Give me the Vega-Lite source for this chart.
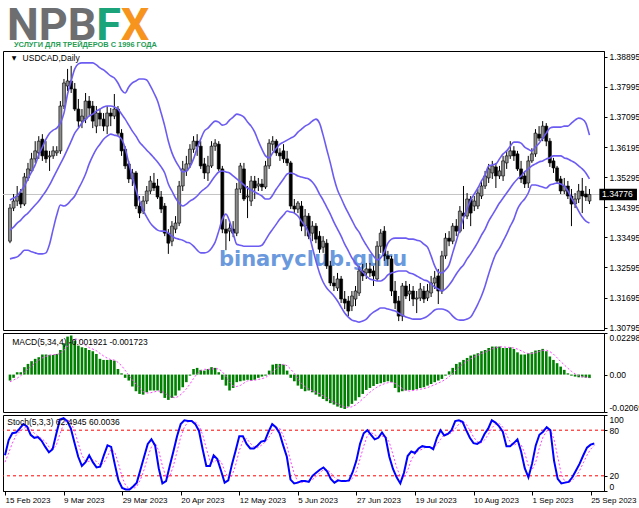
{
"$schema":"https://vega.github.io/schema/vega-lite/v6.json",
"background":"#ffffff",
"padding":{"left":0,"right":0,"top":3,"bottom":0},
"bounds":"flush",
"datasets":{"p":[
{"i":0,"o":1.3338,"h":1.3449,"l":1.3332,"c":1.3437,"u":1.3461,"m":1.3371,"b":1.3285,"mh":-0.0033,"ms":-0.0040,"k":47,"d":38},
{"i":1,"o":1.3437,"h":1.3479,"l":1.3428,"c":1.3458,"u":1.3467,"m":1.3380,"b":1.3288,"mh":-0.0018,"ms":-0.0030,"k":67,"d":50},
{"i":2,"o":1.3458,"h":1.3503,"l":1.3443,"c":1.3473,"u":1.3473,"m":1.3392,"b":1.3291,"mh":0.0013,"ms":-0.0020,"k":76,"d":63},
{"i":3,"o":1.3482,"h":1.3494,"l":1.3437,"c":1.3449,"u":1.3488,"m":1.3401,"b":1.3300,"mh":0.0013,"ms":-0.0006,"k":77,"d":73},
{"i":4,"o":1.3449,"h":1.3542,"l":1.3443,"c":1.3530,"u":1.3503,"m":1.3413,"b":1.3311,"mh":0.0041,"ms":0.0012,"k":82,"d":78},
{"i":5,"o":1.3527,"h":1.3572,"l":1.3518,"c":1.3554,"u":1.3524,"m":1.3422,"b":1.3311,"mh":0.0059,"ms":0.0032,"k":88,"d":82},
{"i":6,"o":1.3548,"h":1.3602,"l":1.3542,"c":1.3584,"u":1.3545,"m":1.3434,"b":1.3306,"mh":0.0074,"ms":0.0047,"k":85,"d":85},
{"i":7,"o":1.3584,"h":1.3637,"l":1.3572,"c":1.3608,"u":1.3566,"m":1.3446,"b":1.3303,"mh":0.0087,"ms":0.0065,"k":74,"d":82},
{"i":8,"o":1.3602,"h":1.3652,"l":1.3584,"c":1.3637,"u":1.3596,"m":1.3458,"b":1.3300,"mh":0.0096,"ms":0.0079,"k":70,"d":76},
{"i":9,"o":1.3643,"h":1.3658,"l":1.3578,"c":1.3593,"u":1.3619,"m":1.3473,"b":1.3300,"mh":0.0111,"ms":0.0092,"k":71,"d":72},
{"i":10,"o":1.3608,"h":1.3637,"l":1.3572,"c":1.3584,"u":1.3643,"m":1.3488,"b":1.3303,"mh":0.0111,"ms":0.0101,"k":66,"d":69},
{"i":11,"o":1.3590,"h":1.3608,"l":1.3548,"c":1.3593,"u":1.3661,"m":1.3506,"b":1.3329,"mh":0.0109,"ms":0.0107,"k":58,"d":65},
{"i":12,"o":1.3593,"h":1.3622,"l":1.3584,"c":1.3608,"u":1.3670,"m":1.3527,"b":1.3374,"mh":0.0109,"ms":0.0110,"k":51,"d":58},
{"i":13,"o":1.3602,"h":1.3622,"l":1.3593,"c":1.3608,"u":1.3676,"m":1.3548,"b":1.3416,"mh":0.0114,"ms":0.0111,"k":55,"d":55},
{"i":14,"o":1.3608,"h":1.3757,"l":1.3599,"c":1.3742,"u":1.3691,"m":1.3569,"b":1.3446,"mh":0.0136,"ms":0.0117,"k":75,"d":60},
{"i":15,"o":1.3742,"h":1.3823,"l":1.3733,"c":1.3811,"u":1.3721,"m":1.3590,"b":1.3443,"mh":0.0173,"ms":0.0133,"k":94,"d":75},
{"i":16,"o":1.3802,"h":1.3853,"l":1.3787,"c":1.3817,"u":1.3778,"m":1.3613,"b":1.3449,"mh":0.0210,"ms":0.0158,"k":96,"d":88},
{"i":17,"o":1.3817,"h":1.3862,"l":1.3781,"c":1.3793,"u":1.3817,"m":1.3637,"b":1.3461,"mh":0.0216,"ms":0.0184,"k":92,"d":94},
{"i":18,"o":1.3793,"h":1.3811,"l":1.3727,"c":1.3733,"u":1.3853,"m":1.3661,"b":1.3473,"mh":0.0188,"ms":0.0197,"k":82,"d":90},
{"i":19,"o":1.3733,"h":1.3763,"l":1.3679,"c":1.3697,"u":1.3868,"m":1.3676,"b":1.3494,"mh":0.0160,"ms":0.0194,"k":63,"d":79},
{"i":20,"o":1.3697,"h":1.3733,"l":1.3676,"c":1.3712,"u":1.3871,"m":1.3691,"b":1.3515,"mh":0.0151,"ms":0.0179,"k":45,"d":63},
{"i":21,"o":1.3703,"h":1.3781,"l":1.3691,"c":1.3757,"u":1.3871,"m":1.3703,"b":1.3539,"mh":0.0147,"ms":0.0162,"k":33,"d":47},
{"i":22,"o":1.3757,"h":1.3772,"l":1.3712,"c":1.3736,"u":1.3871,"m":1.3712,"b":1.3569,"mh":0.0136,"ms":0.0149,"k":38,"d":39},
{"i":23,"o":1.3742,"h":1.3757,"l":1.3676,"c":1.3697,"u":1.3871,"m":1.3718,"b":1.3593,"mh":0.0129,"ms":0.0141,"k":47,"d":39},
{"i":24,"o":1.3682,"h":1.3742,"l":1.3661,"c":1.3721,"u":1.3865,"m":1.3727,"b":1.3613,"mh":0.0114,"ms":0.0132,"k":38,"d":41},
{"i":25,"o":1.3721,"h":1.3733,"l":1.3682,"c":1.3703,"u":1.3856,"m":1.3733,"b":1.3628,"mh":0.0087,"ms":0.0117,"k":31,"d":39},
{"i":26,"o":1.3703,"h":1.3721,"l":1.3667,"c":1.3682,"u":1.3850,"m":1.3739,"b":1.3643,"mh":0.0081,"ms":0.0103,"k":32,"d":34},
{"i":27,"o":1.3682,"h":1.3742,"l":1.3658,"c":1.3721,"u":1.3841,"m":1.3742,"b":1.3652,"mh":0.0081,"ms":0.0091,"k":47,"d":37},
{"i":28,"o":1.3721,"h":1.3736,"l":1.3682,"c":1.3712,"u":1.3832,"m":1.3742,"b":1.3658,"mh":0.0081,"ms":0.0083,"k":60,"d":46},
{"i":29,"o":1.3712,"h":1.3778,"l":1.3703,"c":1.3733,"u":1.3826,"m":1.3739,"b":1.3655,"mh":0.0077,"ms":0.0080,"k":58,"d":55},
{"i":30,"o":1.3733,"h":1.3742,"l":1.3652,"c":1.3661,"u":1.3811,"m":1.3733,"b":1.3652,"mh":0.0031,"ms":0.0068,"k":35,"d":51},
{"i":31,"o":1.3661,"h":1.3673,"l":1.3593,"c":1.3608,"u":1.3790,"m":1.3718,"b":1.3643,"mh":0.0007,"ms":0.0049,"k":14,"d":36},
{"i":32,"o":1.3613,"h":1.3622,"l":1.3554,"c":1.3563,"u":1.3781,"m":1.3703,"b":1.3616,"mh":-0.0018,"ms":0.0024,"k":4,"d":18},
{"i":33,"o":1.3569,"h":1.3578,"l":1.3512,"c":1.3524,"u":1.3799,"m":1.3685,"b":1.3572,"mh":-0.0033,"ms":-0.0003,"k":2,"d":7},
{"i":34,"o":1.3524,"h":1.3554,"l":1.3503,"c":1.3542,"u":1.3811,"m":1.3667,"b":1.3530,"mh":-0.0066,"ms":-0.0028,"k":2,"d":3},
{"i":35,"o":1.3542,"h":1.3548,"l":1.3434,"c":1.3443,"u":1.3817,"m":1.3652,"b":1.3491,"mh":-0.0092,"ms":-0.0052,"k":6,"d":3},
{"i":36,"o":1.3443,"h":1.3473,"l":1.3407,"c":1.3422,"u":1.3823,"m":1.3634,"b":1.3458,"mh":-0.0107,"ms":-0.0075,"k":11,"d":6},
{"i":37,"o":1.3428,"h":1.3473,"l":1.3419,"c":1.3458,"u":1.3823,"m":1.3622,"b":1.3431,"mh":-0.0111,"ms":-0.0094,"k":28,"d":15},
{"i":38,"o":1.3458,"h":1.3503,"l":1.3449,"c":1.3488,"u":1.3820,"m":1.3610,"b":1.3410,"mh":-0.0098,"ms":-0.0102,"k":45,"d":28},
{"i":39,"o":1.3488,"h":1.3533,"l":1.3479,"c":1.3518,"u":1.3802,"m":1.3599,"b":1.3392,"mh":-0.0088,"ms":-0.0101,"k":62,"d":45},
{"i":40,"o":1.3512,"h":1.3542,"l":1.3488,"c":1.3497,"u":1.3781,"m":1.3587,"b":1.3380,"mh":-0.0088,"ms":-0.0096,"k":68,"d":58},
{"i":41,"o":1.3503,"h":1.3524,"l":1.3464,"c":1.3470,"u":1.3757,"m":1.3575,"b":1.3371,"mh":-0.0088,"ms":-0.0091,"k":60,"d":63},
{"i":42,"o":1.3470,"h":1.3488,"l":1.3422,"c":1.3434,"u":1.3721,"m":1.3560,"b":1.3368,"mh":-0.0103,"ms":-0.0092,"k":30,"d":53},
{"i":43,"o":1.3443,"h":1.3452,"l":1.3353,"c":1.3362,"u":1.3682,"m":1.3542,"b":1.3368,"mh":-0.0129,"ms":-0.0102,"k":10,"d":33},
{"i":44,"o":1.3362,"h":1.3374,"l":1.3300,"c":1.3332,"u":1.3637,"m":1.3509,"b":1.3362,"mh":-0.0140,"ms":-0.0115,"k":13,"d":18},
{"i":45,"o":1.3338,"h":1.3398,"l":1.3323,"c":1.3383,"u":1.3602,"m":1.3488,"b":1.3353,"mh":-0.0129,"ms":-0.0125,"k":33,"d":19},
{"i":46,"o":1.3374,"h":1.3413,"l":1.3362,"c":1.3392,"u":1.3578,"m":1.3467,"b":1.3347,"mh":-0.0116,"ms":-0.0129,"k":52,"d":33},
{"i":47,"o":1.3392,"h":1.3518,"l":1.3383,"c":1.3503,"u":1.3560,"m":1.3452,"b":1.3344,"mh":-0.0088,"ms":-0.0118,"k":72,"d":52},
{"i":48,"o":1.3503,"h":1.3578,"l":1.3488,"c":1.3554,"u":1.3545,"m":1.3443,"b":1.3341,"mh":-0.0070,"ms":-0.0101,"k":88,"d":71},
{"i":49,"o":1.3548,"h":1.3593,"l":1.3533,"c":1.3569,"u":1.3548,"m":1.3449,"b":1.3335,"mh":-0.0042,"ms":-0.0079,"k":93,"d":84},
{"i":50,"o":1.3569,"h":1.3628,"l":1.3557,"c":1.3613,"u":1.3560,"m":1.3458,"b":1.3332,"mh":-0.0006,"ms":-0.0052,"k":92,"d":91},
{"i":51,"o":1.3613,"h":1.3652,"l":1.3602,"c":1.3637,"u":1.3584,"m":1.3464,"b":1.3323,"mh":0.0031,"ms":-0.0022,"k":92,"d":92},
{"i":52,"o":1.3637,"h":1.3658,"l":1.3593,"c":1.3622,"u":1.3616,"m":1.3473,"b":1.3311,"mh":0.0037,"ms":0.0005,"k":88,"d":91},
{"i":53,"o":1.3622,"h":1.3637,"l":1.3554,"c":1.3563,"u":1.3643,"m":1.3485,"b":1.3303,"mh":0.0026,"ms":0.0022,"k":79,"d":86},
{"i":54,"o":1.3569,"h":1.3587,"l":1.3524,"c":1.3542,"u":1.3667,"m":1.3494,"b":1.3303,"mh":0.0022,"ms":0.0029,"k":55,"d":74},
{"i":55,"o":1.3542,"h":1.3593,"l":1.3518,"c":1.3563,"u":1.3676,"m":1.3503,"b":1.3306,"mh":0.0031,"ms":0.0029,"k":33,"d":56},
{"i":56,"o":1.3563,"h":1.3637,"l":1.3557,"c":1.3622,"u":1.3688,"m":1.3518,"b":1.3317,"mh":0.0041,"ms":0.0030,"k":33,"d":40},
{"i":57,"o":1.3622,"h":1.3643,"l":1.3608,"c":1.3631,"u":1.3697,"m":1.3533,"b":1.3335,"mh":0.0037,"ms":0.0033,"k":47,"d":38},
{"i":58,"o":1.3628,"h":1.3637,"l":1.3548,"c":1.3554,"u":1.3694,"m":1.3545,"b":1.3368,"mh":0.0013,"ms":0.0031,"k":42,"d":41},
{"i":59,"o":1.3554,"h":1.3563,"l":1.3362,"c":1.3374,"u":1.3685,"m":1.3548,"b":1.3404,"mh":-0.0029,"ms":0.0016,"k":27,"d":39},
{"i":60,"o":1.3374,"h":1.3404,"l":1.3311,"c":1.3362,"u":1.3688,"m":1.3545,"b":1.3419,"mh":-0.0061,"ms":-0.0010,"k":11,"d":27},
{"i":61,"o":1.3368,"h":1.3392,"l":1.3338,"c":1.3377,"u":1.3700,"m":1.3542,"b":1.3398,"mh":-0.0088,"ms":-0.0041,"k":14,"d":17},
{"i":62,"o":1.3374,"h":1.3398,"l":1.3350,"c":1.3362,"u":1.3709,"m":1.3533,"b":1.3362,"mh":-0.0074,"ms":-0.0063,"k":35,"d":20},
{"i":63,"o":1.3362,"h":1.3512,"l":1.3353,"c":1.3494,"u":1.3718,"m":1.3524,"b":1.3329,"mh":-0.0042,"ms":-0.0066,"k":53,"d":34},
{"i":64,"o":1.3494,"h":1.3572,"l":1.3482,"c":1.3563,"u":1.3715,"m":1.3515,"b":1.3326,"mh":-0.0037,"ms":-0.0060,"k":72,"d":53},
{"i":65,"o":1.3554,"h":1.3572,"l":1.3458,"c":1.3464,"u":1.3709,"m":1.3506,"b":1.3323,"mh":-0.0033,"ms":-0.0047,"k":72,"d":66},
{"i":66,"o":1.3470,"h":1.3503,"l":1.3407,"c":1.3473,"u":1.3694,"m":1.3497,"b":1.3323,"mh":-0.0029,"ms":-0.0035,"k":62,"d":69},
{"i":67,"o":1.3458,"h":1.3533,"l":1.3443,"c":1.3518,"u":1.3682,"m":1.3491,"b":1.3323,"mh":-0.0033,"ms":-0.0033,"k":56,"d":63},
{"i":68,"o":1.3518,"h":1.3533,"l":1.3464,"c":1.3497,"u":1.3664,"m":1.3485,"b":1.3323,"mh":-0.0029,"ms":-0.0031,"k":56,"d":58},
{"i":69,"o":1.3503,"h":1.3527,"l":1.3488,"c":1.3509,"u":1.3637,"m":1.3479,"b":1.3323,"mh":-0.0018,"ms":-0.0027,"k":60,"d":57},
{"i":70,"o":1.3509,"h":1.3524,"l":1.3488,"c":1.3500,"u":1.3613,"m":1.3473,"b":1.3326,"mh":-0.0011,"ms":-0.0023,"k":65,"d":60},
{"i":71,"o":1.3500,"h":1.3578,"l":1.3494,"c":1.3563,"u":1.3593,"m":1.3464,"b":1.3341,"mh":-0.0006,"ms":-0.0016,"k":66,"d":64},
{"i":72,"o":1.3563,"h":1.3643,"l":1.3554,"c":1.3631,"u":1.3587,"m":1.3464,"b":1.3359,"mh":0.0022,"ms":-0.0003,"k":78,"d":70},
{"i":73,"o":1.3628,"h":1.3652,"l":1.3608,"c":1.3637,"u":1.3602,"m":1.3476,"b":1.3374,"mh":0.0055,"ms":0.0015,"k":88,"d":77},
{"i":74,"o":1.3637,"h":1.3643,"l":1.3593,"c":1.3602,"u":1.3616,"m":1.3494,"b":1.3389,"mh":0.0059,"ms":0.0033,"k":84,"d":83},
{"i":75,"o":1.3602,"h":1.3616,"l":1.3578,"c":1.3593,"u":1.3628,"m":1.3509,"b":1.3404,"mh":0.0059,"ms":0.0049,"k":76,"d":83},
{"i":76,"o":1.3608,"h":1.3628,"l":1.3572,"c":1.3584,"u":1.3634,"m":1.3524,"b":1.3416,"mh":0.0055,"ms":0.0057,"k":60,"d":73},
{"i":77,"o":1.3584,"h":1.3608,"l":1.3563,"c":1.3572,"u":1.3640,"m":1.3539,"b":1.3428,"mh":0.0022,"ms":0.0049,"k":45,"d":60},
{"i":78,"o":1.3572,"h":1.3578,"l":1.3434,"c":1.3443,"u":1.3646,"m":1.3542,"b":1.3425,"mh":-0.0018,"ms":0.0030,"k":15,"d":40},
{"i":79,"o":1.3443,"h":1.3464,"l":1.3422,"c":1.3434,"u":1.3652,"m":1.3539,"b":1.3422,"mh":-0.0037,"ms":0.0006,"k":10,"d":23},
{"i":80,"o":1.3434,"h":1.3458,"l":1.3422,"c":1.3452,"u":1.3664,"m":1.3533,"b":1.3413,"mh":-0.0061,"ms":-0.0024,"k":11,"d":12},
{"i":81,"o":1.3443,"h":1.3458,"l":1.3368,"c":1.3383,"u":1.3673,"m":1.3530,"b":1.3398,"mh":-0.0079,"ms":-0.0049,"k":13,"d":11},
{"i":82,"o":1.3383,"h":1.3434,"l":1.3353,"c":1.3413,"u":1.3682,"m":1.3527,"b":1.3383,"mh":-0.0092,"ms":-0.0067,"k":13,"d":12},
{"i":83,"o":1.3413,"h":1.3422,"l":1.3344,"c":1.3353,"u":1.3688,"m":1.3524,"b":1.3362,"mh":-0.0088,"ms":-0.0080,"k":12,"d":13},
{"i":84,"o":1.3362,"h":1.3398,"l":1.3338,"c":1.3383,"u":1.3697,"m":1.3515,"b":1.3320,"mh":-0.0098,"ms":-0.0089,"k":20,"d":15},
{"i":85,"o":1.3383,"h":1.3392,"l":1.3332,"c":1.3344,"u":1.3703,"m":1.3500,"b":1.3279,"mh":-0.0111,"ms":-0.0097,"k":24,"d":19},
{"i":86,"o":1.3353,"h":1.3368,"l":1.3303,"c":1.3314,"u":1.3691,"m":1.3479,"b":1.3243,"mh":-0.0122,"ms":-0.0105,"k":28,"d":24},
{"i":87,"o":1.3320,"h":1.3353,"l":1.3303,"c":1.3338,"u":1.3655,"m":1.3461,"b":1.3216,"mh":-0.0135,"ms":-0.0117,"k":31,"d":28},
{"i":88,"o":1.3332,"h":1.3344,"l":1.3255,"c":1.3264,"u":1.3613,"m":1.3440,"b":1.3198,"mh":-0.0147,"ms":-0.0129,"k":26,"d":28},
{"i":89,"o":1.3264,"h":1.3279,"l":1.3204,"c":1.3213,"u":1.3572,"m":1.3419,"b":1.3186,"mh":-0.0158,"ms":-0.0141,"k":16,"d":24},
{"i":90,"o":1.3213,"h":1.3234,"l":1.3189,"c":1.3204,"u":1.3527,"m":1.3395,"b":1.3174,"mh":-0.0166,"ms":-0.0152,"k":11,"d":18},
{"i":91,"o":1.3198,"h":1.3243,"l":1.3189,"c":1.3225,"u":1.3491,"m":1.3374,"b":1.3159,"mh":-0.0177,"ms":-0.0162,"k":14,"d":14},
{"i":92,"o":1.3225,"h":1.3234,"l":1.3153,"c":1.3165,"u":1.3467,"m":1.3353,"b":1.3141,"mh":-0.0184,"ms":-0.0171,"k":13,"d":13},
{"i":93,"o":1.3165,"h":1.3189,"l":1.3135,"c":1.3153,"u":1.3443,"m":1.3329,"b":1.3123,"mh":-0.0190,"ms":-0.0179,"k":13,"d":13},
{"i":94,"o":1.3159,"h":1.3174,"l":1.3114,"c":1.3129,"u":1.3422,"m":1.3309,"b":1.3111,"mh":-0.0177,"ms":-0.0182,"k":14,"d":13},
{"i":95,"o":1.3144,"h":1.3189,"l":1.3129,"c":1.3174,"u":1.3401,"m":1.3288,"b":1.3102,"mh":-0.0162,"ms":-0.0178,"k":25,"d":17},
{"i":96,"o":1.3165,"h":1.3204,"l":1.3144,"c":1.3189,"u":1.3380,"m":1.3273,"b":1.3099,"mh":-0.0144,"ms":-0.0168,"k":40,"d":26},
{"i":97,"o":1.3183,"h":1.3264,"l":1.3174,"c":1.3249,"u":1.3365,"m":1.3258,"b":1.3096,"mh":-0.0125,"ms":-0.0152,"k":62,"d":42},
{"i":98,"o":1.3249,"h":1.3270,"l":1.3219,"c":1.3234,"u":1.3344,"m":1.3246,"b":1.3099,"mh":-0.0107,"ms":-0.0135,"k":76,"d":59},
{"i":99,"o":1.3243,"h":1.3273,"l":1.3225,"c":1.3255,"u":1.3326,"m":1.3234,"b":1.3105,"mh":-0.0085,"ms":-0.0115,"k":80,"d":73},
{"i":100,"o":1.3255,"h":1.3273,"l":1.3231,"c":1.3243,"u":1.3309,"m":1.3225,"b":1.3117,"mh":-0.0074,"ms":-0.0098,"k":74,"d":77},
{"i":101,"o":1.3249,"h":1.3264,"l":1.3204,"c":1.3234,"u":1.3294,"m":1.3222,"b":1.3126,"mh":-0.0063,"ms":-0.0082,"k":68,"d":74},
{"i":102,"o":1.3225,"h":1.3338,"l":1.3219,"c":1.3323,"u":1.3282,"m":1.3219,"b":1.3132,"mh":-0.0052,"ms":-0.0069,"k":70,"d":71},
{"i":103,"o":1.3323,"h":1.3374,"l":1.3303,"c":1.3362,"u":1.3288,"m":1.3219,"b":1.3138,"mh":-0.0048,"ms":-0.0059,"k":77,"d":72},
{"i":104,"o":1.3368,"h":1.3383,"l":1.3279,"c":1.3294,"u":1.3306,"m":1.3225,"b":1.3138,"mh":-0.0042,"ms":-0.0051,"k":70,"d":72},
{"i":105,"o":1.3294,"h":1.3309,"l":1.3264,"c":1.3285,"u":1.3332,"m":1.3237,"b":1.3135,"mh":-0.0037,"ms":-0.0045,"k":45,"d":64},
{"i":106,"o":1.3285,"h":1.3294,"l":1.3174,"c":1.3189,"u":1.3344,"m":1.3243,"b":1.3132,"mh":-0.0042,"ms":-0.0042,"k":29,"d":48},
{"i":107,"o":1.3189,"h":1.3219,"l":1.3135,"c":1.3153,"u":1.3347,"m":1.3246,"b":1.3129,"mh":-0.0074,"ms":-0.0049,"k":18,"d":31},
{"i":108,"o":1.3159,"h":1.3174,"l":1.3099,"c":1.3114,"u":1.3347,"m":1.3249,"b":1.3123,"mh":-0.0098,"ms":-0.0063,"k":10,"d":19},
{"i":109,"o":1.3114,"h":1.3213,"l":1.3099,"c":1.3204,"u":1.3347,"m":1.3249,"b":1.3117,"mh":-0.0092,"ms":-0.0077,"k":24,"d":17},
{"i":110,"o":1.3204,"h":1.3219,"l":1.3165,"c":1.3174,"u":1.3347,"m":1.3249,"b":1.3111,"mh":-0.0088,"ms":-0.0088,"k":46,"d":27},
{"i":111,"o":1.3180,"h":1.3210,"l":1.3159,"c":1.3189,"u":1.3344,"m":1.3243,"b":1.3108,"mh":-0.0085,"ms":-0.0091,"k":52,"d":41},
{"i":112,"o":1.3189,"h":1.3204,"l":1.3144,"c":1.3165,"u":1.3344,"m":1.3240,"b":1.3105,"mh":-0.0085,"ms":-0.0088,"k":50,"d":49},
{"i":113,"o":1.3165,"h":1.3189,"l":1.3123,"c":1.3168,"u":1.3341,"m":1.3234,"b":1.3105,"mh":-0.0081,"ms":-0.0085,"k":56,"d":53},
{"i":114,"o":1.3168,"h":1.3213,"l":1.3159,"c":1.3195,"u":1.3338,"m":1.3228,"b":1.3105,"mh":-0.0074,"ms":-0.0081,"k":59,"d":55},
{"i":115,"o":1.3189,"h":1.3204,"l":1.3153,"c":1.3165,"u":1.3329,"m":1.3222,"b":1.3108,"mh":-0.0070,"ms":-0.0078,"k":58,"d":58},
{"i":116,"o":1.3168,"h":1.3210,"l":1.3159,"c":1.3189,"u":1.3320,"m":1.3219,"b":1.3114,"mh":-0.0061,"ms":-0.0072,"k":58,"d":58},
{"i":117,"o":1.3183,"h":1.3234,"l":1.3171,"c":1.3213,"u":1.3294,"m":1.3210,"b":1.3123,"mh":-0.0052,"ms":-0.0064,"k":55,"d":57},
{"i":118,"o":1.3213,"h":1.3249,"l":1.3195,"c":1.3228,"u":1.3264,"m":1.3201,"b":1.3132,"mh":-0.0042,"ms":-0.0056,"k":70,"d":61},
{"i":119,"o":1.3234,"h":1.3255,"l":1.3150,"c":1.3189,"u":1.3246,"m":1.3195,"b":1.3135,"mh":-0.0033,"ms":-0.0047,"k":80,"d":68},
{"i":120,"o":1.3189,"h":1.3309,"l":1.3180,"c":1.3294,"u":1.3243,"m":1.3189,"b":1.3135,"mh":-0.0024,"ms":-0.0038,"k":73,"d":74},
{"i":121,"o":1.3294,"h":1.3362,"l":1.3285,"c":1.3347,"u":1.3252,"m":1.3195,"b":1.3132,"mh":-0.0006,"ms":-0.0026,"k":75,"d":76},
{"i":122,"o":1.3347,"h":1.3368,"l":1.3323,"c":1.3338,"u":1.3267,"m":1.3207,"b":1.3126,"mh":0.0018,"ms":-0.0011,"k":80,"d":76},
{"i":123,"o":1.3338,"h":1.3392,"l":1.3329,"c":1.3383,"u":1.3303,"m":1.3222,"b":1.3114,"mh":0.0037,"ms":0.0006,"k":92,"d":82},
{"i":124,"o":1.3383,"h":1.3404,"l":1.3353,"c":1.3368,"u":1.3338,"m":1.3240,"b":1.3105,"mh":0.0059,"ms":0.0027,"k":93,"d":88},
{"i":125,"o":1.3368,"h":1.3443,"l":1.3362,"c":1.3428,"u":1.3374,"m":1.3255,"b":1.3102,"mh":0.0068,"ms":0.0046,"k":91,"d":92},
{"i":126,"o":1.3422,"h":1.3503,"l":1.3374,"c":1.3413,"u":1.3407,"m":1.3267,"b":1.3102,"mh":0.0081,"ms":0.0061,"k":80,"d":88},
{"i":127,"o":1.3413,"h":1.3482,"l":1.3404,"c":1.3464,"u":1.3434,"m":1.3285,"b":1.3105,"mh":0.0092,"ms":0.0075,"k":70,"d":80},
{"i":128,"o":1.3464,"h":1.3473,"l":1.3383,"c":1.3422,"u":1.3461,"m":1.3300,"b":1.3111,"mh":0.0105,"ms":0.0087,"k":63,"d":71},
{"i":129,"o":1.3443,"h":1.3473,"l":1.3428,"c":1.3458,"u":1.3479,"m":1.3317,"b":1.3129,"mh":0.0111,"ms":0.0097,"k":62,"d":65},
{"i":130,"o":1.3443,"h":1.3494,"l":1.3434,"c":1.3482,"u":1.3497,"m":1.3335,"b":1.3150,"mh":0.0118,"ms":0.0107,"k":65,"d":63},
{"i":131,"o":1.3473,"h":1.3518,"l":1.3464,"c":1.3503,"u":1.3518,"m":1.3356,"b":1.3174,"mh":0.0129,"ms":0.0116,"k":75,"d":67},
{"i":132,"o":1.3503,"h":1.3548,"l":1.3494,"c":1.3533,"u":1.3536,"m":1.3374,"b":1.3204,"mh":0.0136,"ms":0.0124,"k":82,"d":74},
{"i":133,"o":1.3527,"h":1.3569,"l":1.3512,"c":1.3554,"u":1.3563,"m":1.3398,"b":1.3240,"mh":0.0147,"ms":0.0133,"k":93,"d":83},
{"i":134,"o":1.3542,"h":1.3578,"l":1.3524,"c":1.3563,"u":1.3566,"m":1.3416,"b":1.3273,"mh":0.0155,"ms":0.0142,"k":90,"d":88},
{"i":135,"o":1.3560,"h":1.3572,"l":1.3497,"c":1.3533,"u":1.3569,"m":1.3434,"b":1.3300,"mh":0.0155,"ms":0.0148,"k":85,"d":89},
{"i":136,"o":1.3533,"h":1.3563,"l":1.3524,"c":1.3548,"u":1.3584,"m":1.3452,"b":1.3317,"mh":0.0155,"ms":0.0153,"k":78,"d":84},
{"i":137,"o":1.3533,"h":1.3593,"l":1.3518,"c":1.3578,"u":1.3599,"m":1.3467,"b":1.3338,"mh":0.0147,"ms":0.0153,"k":59,"d":74},
{"i":138,"o":1.3572,"h":1.3608,"l":1.3554,"c":1.3593,"u":1.3608,"m":1.3482,"b":1.3359,"mh":0.0147,"ms":0.0151,"k":59,"d":65},
{"i":139,"o":1.3593,"h":1.3637,"l":1.3584,"c":1.3608,"u":1.3622,"m":1.3497,"b":1.3383,"mh":0.0151,"ms":0.0150,"k":63,"d":60},
{"i":140,"o":1.3608,"h":1.3622,"l":1.3578,"c":1.3593,"u":1.3634,"m":1.3512,"b":1.3404,"mh":0.0142,"ms":0.0147,"k":68,"d":63},
{"i":141,"o":1.3599,"h":1.3608,"l":1.3548,"c":1.3554,"u":1.3634,"m":1.3524,"b":1.3434,"mh":0.0123,"ms":0.0141,"k":52,"d":61},
{"i":142,"o":1.3554,"h":1.3578,"l":1.3512,"c":1.3524,"u":1.3631,"m":1.3533,"b":1.3452,"mh":0.0111,"ms":0.0132,"k":30,"d":50},
{"i":143,"o":1.3533,"h":1.3548,"l":1.3497,"c":1.3509,"u":1.3619,"m":1.3545,"b":1.3464,"mh":0.0111,"ms":0.0122,"k":18,"d":33},
{"i":144,"o":1.3512,"h":1.3593,"l":1.3497,"c":1.3578,"u":1.3613,"m":1.3554,"b":1.3482,"mh":0.0118,"ms":0.0116,"k":36,"d":28},
{"i":145,"o":1.3578,"h":1.3616,"l":1.3572,"c":1.3599,"u":1.3608,"m":1.3563,"b":1.3506,"mh":0.0123,"ms":0.0116,"k":60,"d":38},
{"i":146,"o":1.3599,"h":1.3673,"l":1.3590,"c":1.3661,"u":1.3619,"m":1.3569,"b":1.3506,"mh":0.0133,"ms":0.0121,"k":74,"d":57},
{"i":147,"o":1.3658,"h":1.3682,"l":1.3637,"c":1.3646,"u":1.3631,"m":1.3575,"b":1.3503,"mh":0.0136,"ms":0.0128,"k":78,"d":71},
{"i":148,"o":1.3646,"h":1.3697,"l":1.3637,"c":1.3682,"u":1.3646,"m":1.3578,"b":1.3500,"mh":0.0142,"ms":0.0134,"k":84,"d":79},
{"i":149,"o":1.3682,"h":1.3691,"l":1.3622,"c":1.3637,"u":1.3661,"m":1.3584,"b":1.3497,"mh":0.0129,"ms":0.0135,"k":80,"d":81},
{"i":150,"o":1.3637,"h":1.3646,"l":1.3560,"c":1.3572,"u":1.3676,"m":1.3587,"b":1.3506,"mh":0.0100,"ms":0.0127,"k":40,"d":68},
{"i":151,"o":1.3578,"h":1.3587,"l":1.3542,"c":1.3557,"u":1.3679,"m":1.3593,"b":1.3509,"mh":0.0081,"ms":0.0113,"k":16,"d":45},
{"i":152,"o":1.3557,"h":1.3563,"l":1.3509,"c":1.3518,"u":1.3679,"m":1.3593,"b":1.3512,"mh":0.0063,"ms":0.0093,"k":10,"d":22},
{"i":153,"o":1.3524,"h":1.3533,"l":1.3479,"c":1.3488,"u":1.3679,"m":1.3593,"b":1.3509,"mh":0.0044,"ms":0.0072,"k":11,"d":12},
{"i":154,"o":1.3488,"h":1.3527,"l":1.3479,"c":1.3503,"u":1.3682,"m":1.3587,"b":1.3503,"mh":0.0026,"ms":0.0054,"k":12,"d":11},
{"i":155,"o":1.3503,"h":1.3518,"l":1.3464,"c":1.3473,"u":1.3682,"m":1.3584,"b":1.3488,"mh":0.0007,"ms":0.0035,"k":18,"d":14},
{"i":156,"o":1.3473,"h":1.3494,"l":1.3383,"c":1.3449,"u":1.3691,"m":1.3578,"b":1.3467,"mh":-0.0006,"ms":0.0018,"k":27,"d":19},
{"i":157,"o":1.3449,"h":1.3482,"l":1.3437,"c":1.3464,"u":1.3700,"m":1.3572,"b":1.3449,"mh":-0.0011,"ms":0.0004,"k":36,"d":27},
{"i":158,"o":1.3464,"h":1.3509,"l":1.3452,"c":1.3488,"u":1.3706,"m":1.3563,"b":1.3428,"mh":-0.0015,"ms":-0.0006,"k":47,"d":37},
{"i":159,"o":1.3488,"h":1.3527,"l":1.3422,"c":1.3473,"u":1.3703,"m":1.3554,"b":1.3410,"mh":-0.0015,"ms":-0.0012,"k":57,"d":47},
{"i":160,"o":1.3479,"h":1.3503,"l":1.3458,"c":1.3470,"u":1.3691,"m":1.3542,"b":1.3398,"mh":-0.0018,"ms":-0.0015,"k":61,"d":55},
{"i":161,"o":1.3458,"h":1.3494,"l":1.3449,"c":1.34776,"u":1.3655,"m":1.3524,"b":1.3392,"mh":-0.001921,"ms":-0.001723,"k":62.4945,"d":60.0036}
]},
"data":{"name":"p"},
"spacing":3,
"vconcat":[
{"width":601,"height":279,
 "layer":[
  {"data":{"values":[{}]},"mark":{"type":"rule","color":"#c4c4c4","strokeWidth":1},
   "encoding":{"y":{"datum":1.34776,"type":"quantitative","title":null,"scale":{"domain":[1.30724,1.39066],"nice":false,"zero":false},
     "axis":{"orient":"right","title":null,"labelOverlap":false,"tickCount":30,"values":[1.30795,1.31695,1.32595,1.33495,1.34395,1.35295,1.36195,1.37095,1.37995,1.38895],"format":".5f"}}}},
  {"data":{"values":[{"t":"binaryclub.guru"}]},"mark":{"type":"text","font":"DejaVu Sans","fontSize":21,"fontWeight":"bold","color":"#5288d8","opacity":0.85,"align":"center","baseline":"middle"},
   "encoding":{"text":{"field":"t"},"x":{"datum":84.2,"type":"quantitative","scale":{"domain":[-0.55,163.65],"nice":false,"zero":false},"axis":null},"y":{"datum":1.3281,"type":"quantitative"}}},
  {"data":{"values":[{"t":"NPB"}]},"mark":{"type":"text","font":"Roboto","fontSize":45,"fontWeight":"bold","color":"#6d6e70","align":"right","baseline":"top"},
   "encoding":{"text":{"field":"t"},"x":{"datum":24.0,"type":"quantitative"},"y":{"datum":1.404715,"type":"quantitative"}}},
  {"data":{"values":[{"t":"F"}]},"mark":{"type":"text","font":"Roboto","fontSize":45,"fontWeight":"bold","color":"#1ba37a","align":"left","baseline":"top"},
   "encoding":{"text":{"field":"t"},"x":{"datum":24.0,"type":"quantitative"},"y":{"datum":1.404715,"type":"quantitative"}}},
  {"data":{"values":[{"t":"X"}]},"mark":{"type":"text","font":"Roboto","fontSize":45,"fontWeight":"bold","color":"#f7941d","align":"left","baseline":"top"},
   "encoding":{"text":{"field":"t"},"x":{"datum":30.75,"type":"quantitative"},"y":{"datum":1.404715,"type":"quantitative"}}},
  {"data":{"values":[{"t":"УСЛУГИ ДЛЯ ТРЕЙДЕРОВ С 1996 ГОДА"}]},"mark":{"type":"text","font":"Liberation Sans","fontSize":7.4,"fontWeight":"bold","color":"#1f9d55","align":"left","baseline":"middle"},
   "encoding":{"text":{"field":"t"},"x":{"datum":1.1,"type":"quantitative"},"y":{"datum":1.39245,"type":"quantitative"}}},
  {"mark":{"type":"rule","color":"#000000","strokeWidth":1},
   "encoding":{"x":{"field":"i","type":"quantitative","title":null},"y":{"field":"l","type":"quantitative","title":null},"y2":{"field":"h"}}},
  {"mark":{"type":"bar","width":3,"stroke":"#000000","strokeWidth":0.6},
   "encoding":{"x":{"field":"i","type":"quantitative","title":null},"y":{"field":"o","type":"quantitative","title":null},"y2":{"field":"c"},
     "fill":{"condition":{"test":"datum.c>datum.o","value":"#8c8c8c"},"value":"#000000"}}},
  {"mark":{"type":"line","color":"#6c5cf2","strokeWidth":1.6,"interpolate":"monotone"},
   "encoding":{"x":{"field":"i","type":"quantitative","title":null},"y":{"field":"u","type":"quantitative","title":null}}},
  {"mark":{"type":"line","color":"#6c5cf2","strokeWidth":1.6,"interpolate":"monotone"},
   "encoding":{"x":{"field":"i","type":"quantitative","title":null},"y":{"field":"m","type":"quantitative","title":null}}},
  {"mark":{"type":"line","color":"#6c5cf2","strokeWidth":1.6,"interpolate":"monotone"},
   "encoding":{"x":{"field":"i","type":"quantitative","title":null},"y":{"field":"b","type":"quantitative","title":null}}},
  {"data":{"values":[{"t":"▼"}]},"mark":{"type":"text","font":"DejaVu Sans","fontSize":6,"align":"center","baseline":"middle","color":"#000000"},
   "encoding":{"text":{"field":"t"},"x":{"datum":1.1,"type":"quantitative"},"y":{"datum":1.38857,"type":"quantitative"}}},
  {"data":{"values":[{"t":"USDCAD,Daily"}]},"mark":{"type":"text","font":"Liberation Sans","fontSize":8.5,"align":"left","baseline":"middle","color":"#000000"},
   "encoding":{"text":{"field":"t"},"x":{"datum":3.5,"type":"quantitative"},"y":{"datum":1.38857,"type":"quantitative"}}},
  {"data":{"values":[{}]},"mark":{"type":"rect","color":"#000000"},
   "encoding":{"x":{"datum":163.75,"type":"quantitative"},"x2":{"datum":174.2},"y":{"datum":1.34945,"type":"quantitative"},"y2":{"datum":1.34607}}},
  {"data":{"values":[{"t":"1.34776"}]},"mark":{"type":"text","font":"Liberation Sans","fontSize":8.5,"align":"left","baseline":"middle","color":"#ffffff"},
   "encoding":{"text":{"field":"t"},"x":{"datum":164.5,"type":"quantitative"},"y":{"datum":1.34776,"type":"quantitative"}}}
 ]},
{"width":601,"height":79,
 "layer":[
  {"mark":{"type":"bar","width":2.6,"color":"#008000"},
   "encoding":{"x":{"field":"i","type":"quantitative","title":null,"scale":{"domain":[-0.55,163.65],"nice":false,"zero":false},"axis":null},
     "y":{"field":"mh","type":"quantitative","title":null,"scale":{"domain":[-0.020691,0.022988],"nice":false,"zero":false},
       "axis":{"orient":"right","title":null,"labelOverlap":false,"tickCount":10,"values":[-0.020691,0,0.022988],"labelExpr":"datum.value>0.02?'0.022988':(datum.value<-0.02?'-0.020691':'0.00')","labelFlush":true}},
     "y2":{"datum":0}}},
  {"mark":{"type":"line","color":"#ff40ff","strokeWidth":1,"strokeDash":[2,2]},
   "encoding":{"x":{"field":"i","type":"quantitative","title":null},"y":{"field":"ms","type":"quantitative","title":null}}},
  {"data":{"values":[{"t":"MACD(5,34,4) -0.001921 -0.001723"}]},"mark":{"type":"text","font":"Liberation Sans","fontSize":8.5,"align":"left","baseline":"middle","color":"#000000"},
   "encoding":{"text":{"field":"t"},"x":{"datum":0.6,"type":"quantitative"},"y":{"datum":0.018,"type":"quantitative"}}}
 ]},
{"width":601,"height":76,
 "layer":[
  {"data":{"values":[{"v":20},{"v":80}]},"mark":{"type":"rule","color":"#ff0000","strokeDash":[3,3],"strokeWidth":1},
   "encoding":{"y":{"field":"v","type":"quantitative","title":null,"scale":{"domain":[0,100],"nice":false},
     "axis":{"orient":"right","title":null,"labelOverlap":false,"tickCount":10,"values":[0,20,80,100],"labelFlush":true}}}},
  {"mark":{"type":"line","color":"#ff40ff","strokeWidth":1,"strokeDash":[2,2]},
   "encoding":{"x":{"field":"i","type":"quantitative","title":null,"scale":{"domain":[-0.55,163.65],"nice":false,"zero":false},
     "axis":{"orient":"bottom","title":null,"labelOverlap":false,"tickCount":30,"labelFontSize":8,"values":[0,16,32,48,64,80,96,112,128,144,160],"labelAlign":"left","labelFlush":false,"labelOffset":0,"tickSize":4,"labelPadding":1,
       "labelExpr":"datum.value==0?'15 Feb 2023':datum.value==16?'9 Mar 2023':datum.value==32?'29 Mar 2023':datum.value==48?'20 Apr 2023':datum.value==64?'12 May 2023':datum.value==80?'5 Jun 2023':datum.value==96?'27 Jun 2023':datum.value==112?'19 Jul 2023':datum.value==128?'10 Aug 2023':datum.value==144?'1 Sep 2023':'25 Sep 2023'"}},
     "y":{"field":"d","type":"quantitative","title":null}}},
  {"mark":{"type":"line","color":"#0000ff","strokeWidth":2},
   "encoding":{"x":{"field":"i","type":"quantitative","title":null},"y":{"field":"k","type":"quantitative","title":null}}},
  {"data":{"values":[{"t":"Stoch(5,3,3) 62.4945 60.0036"}]},"mark":{"type":"text","font":"Liberation Sans","fontSize":8.5,"align":"left","baseline":"middle","color":"#000000"},
   "encoding":{"text":{"field":"t"},"x":{"datum":0.6,"type":"quantitative"},"y":{"datum":91,"type":"quantitative"}}}
 ]}
],
"config":{
 "view":{"stroke":"#000000","strokeWidth":1},
 "axis":{"labelFont":"Liberation Sans","labelFontSize":8.5,"labelColor":"#000000","tickColor":"#000000","domainColor":"#000000","grid":false,"tickSize":3,"labelPadding":2,"labelOverlap":false}
}
}
